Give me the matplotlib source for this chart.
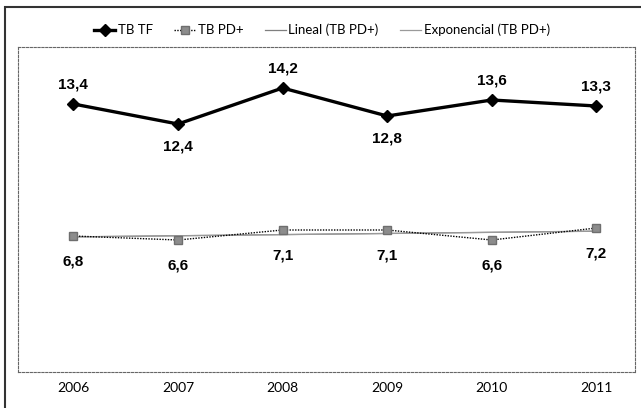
import numpy as np
import matplotlib
matplotlib.use("Agg")
import matplotlib.pyplot as plt
from matplotlib.patches import Rectangle

years = ["2006", "2007", "2008", "2009", "2010", "2011"]
tb_tf = [13.4, 12.4, 14.2, 12.8, 13.6, 13.3]
tb_pd = [6.8, 6.6, 7.1, 7.1, 6.6, 7.2]
tf_label_pos = ["above", "below", "above", "below", "above", "above"]

plt.rcParams['font.family'] = ['Lato', 'DejaVu Sans']

fig = plt.figure(figsize=(6.41, 4.08), dpi=100)
W, H = 641, 408
ax = fig.add_axes([18 / W, 1 - 372 / H, (635 - 18) / W, (372 - 47) / H])

x = np.arange(len(years))

# trend lines
p = np.polyfit(x + 1, tb_pd, 1)
xl = np.linspace(0, len(years) - 1, 50)
lin = np.polyval(p, xl + 1)
pe = np.polyfit(x + 1, np.log(tb_pd), 1)
expo = np.exp(np.polyval(pe, xl + 1))
ax.plot(xl, lin, color='#7f7f7f', lw=0.9, zorder=2, label='Lineal (TB PD+)')
ax.plot(xl, expo, color='#9a9a9a', lw=0.9, zorder=2, label='Exponencial (TB PD+)')

l1, = ax.plot(x, tb_tf, color='black', lw=2.4, marker='D', ms=6, zorder=4, label='TB TF')
l2, = ax.plot(x, tb_pd, color='black', lw=1.0, ls=(0, (1, 1)), marker='s', ms=6,
              mfc='#8c8c8c', mec='#6e6e6e', zorder=3, label='TB PD+')

for xi, v, pos in zip(x, tb_tf, tf_label_pos):
    dy = 14 if pos == 'above' else -16
    ax.annotate(f"{v:.1f}".replace('.', ','), (xi, v), xytext=(0, dy), textcoords='offset points',
                ha='center', va='center', fontsize=11, fontweight='bold',
                family=['Liberation Sans', 'DejaVu Sans'])
for xi, v in zip(x, tb_pd):
    ax.annotate(f"{v:.1f}".replace('.', ','), (xi, v), xytext=(0, -18), textcoords='offset points',
                ha='center', va='center', fontsize=11, fontweight='bold',
                family=['Liberation Sans', 'DejaVu Sans'])

ax.set_xlim(-0.53, 5.37)
ax.set_ylim(0, 16.25)
ax.set_yticks([])
ax.set_xticks(x)
ax.set_xticklabels(years, fontsize=10)
ax.tick_params(axis='x', length=0, pad=7)
for s in ax.spines.values():
    s.set_linestyle((0, (2, 1.5)))
    s.set_linewidth(0.8)
    s.set_color('#666666')

handles, labels = ax.get_legend_handles_labels()
order = [2, 3, 0, 1]
leg = fig.legend([handles[i] for i in order], [labels[i] for i in order],
                 loc='center', bbox_to_anchor=(322 / W, 1 - 30 / H), ncol=4, frameon=False,
                 fontsize=9.5, handlelength=1.6, handletextpad=0.2, columnspacing=1.6)

fig.patches.append(Rectangle((5 / W, -0.1), 1.2, 1 - 7 / H + 0.1, transform=fig.transFigure,
                             fill=False, ec='#333333', lw=1.5, zorder=0))

fig.savefig('out.png', dpi=100)
